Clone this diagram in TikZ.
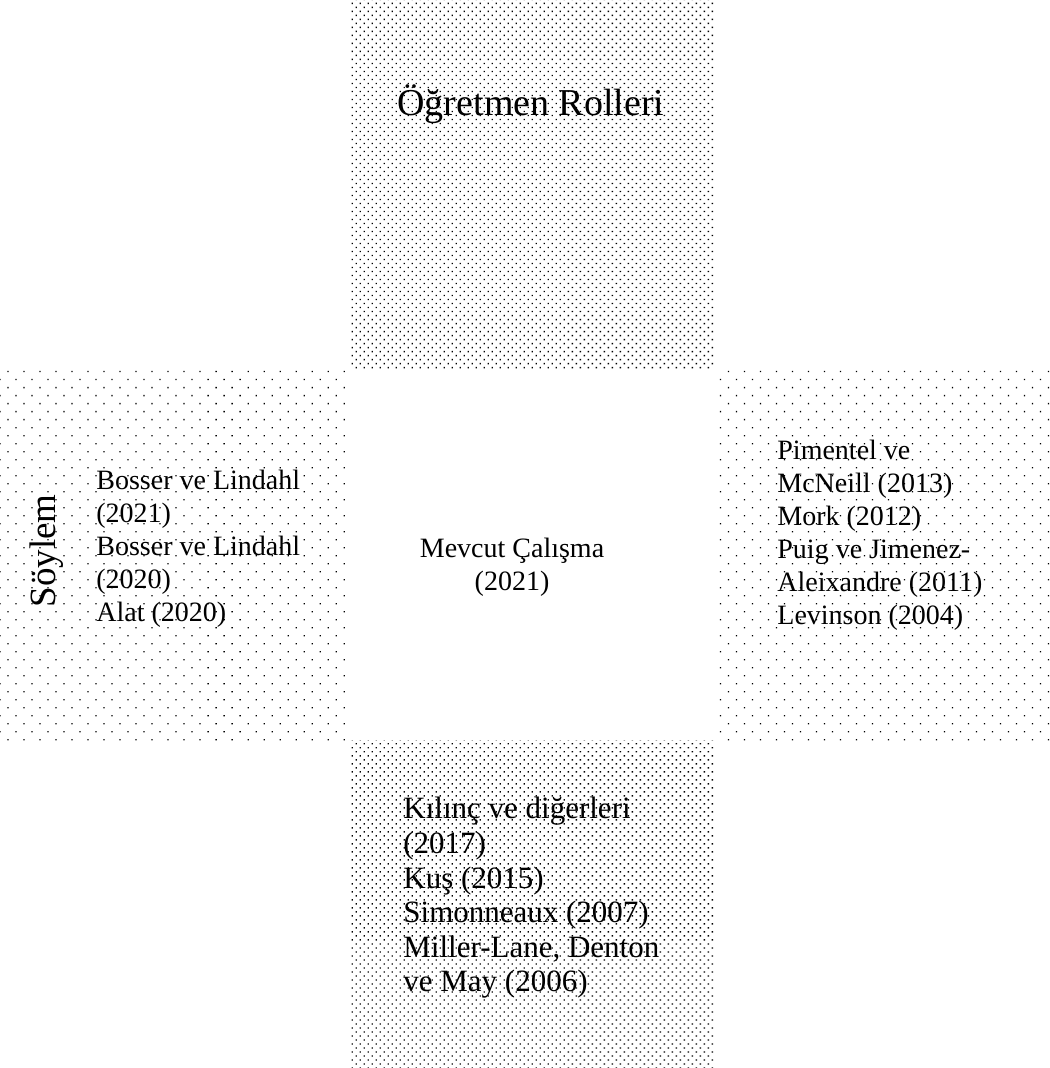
\documentclass[tikz,border=0pt]{standalone}
\usepackage{fontspec}
\setmainfont{Liberation Serif}
\usepackage{xcolor}
\usepackage{tikz}
\usetikzlibrary{patterns.meta}
\definecolor{dotc}{HTML}{000000}
\tikzset{
  densep/.style={pattern={Dots[angle=45,distance=2.83pt,radius=0.48pt]},pattern color=dotc},
  sparsep/.style={pattern={Dots[angle=45,distance=5.66pt,radius=0.45pt]},pattern color=dotc},
  lbl/.style={inner sep=0pt,align=left,font=\fontsize{14}{16.5}\selectfont}
}

\begin{document}
\begin{tikzpicture}[x=0.5pt,y=-0.5pt]
\useasboundingbox (0,0) rectangle (1049,1068);
% cross of four patterned blocks
\fill[densep] (349,0) rectangle (714,370);
\fill[densep] (349,740) rectangle (714,1068);
\fill[sparsep] (0,370) rectangle (349,740);
\fill[sparsep] (714,370) rectangle (1049,740);
% labels
\node[inner sep=0pt,font=\fontsize{19}{22}\selectfont] (roller) at (531,104) {Öğretmen Rolleri};
\node[inner sep=0pt,rotate=90,font=\fontsize{18.5}{21}\selectfont] (soylem) at (47,551) {Söylem};
\node[lbl,anchor=west] (sol) at (96,549) {Bosser ve Lindahl\\(2021)\\Bosser ve Lindahl\\(2020)\\Alat (2020)};
\node[lbl,align=center] (mevcut) at (512,567) {Mevcut Çalışma\\(2021)};
\node[lbl,anchor=west] (sag) at (777,535) {Pimentel ve\\McNeill (2013)\\Mork (2012)\\Puig ve Jimenez-\\Aleixandre (2011)\\Levinson (2004)};
\node[lbl,anchor=west,font=\fontsize{15.5}{17.3}\selectfont] (alt) at (403,898) {Kılınç ve diğerleri\\(2017)\\Kuş (2015)\\Simonneaux (2007)\\Miller-Lane, Denton\\ve May (2006)};
\end{tikzpicture}
\end{document}
